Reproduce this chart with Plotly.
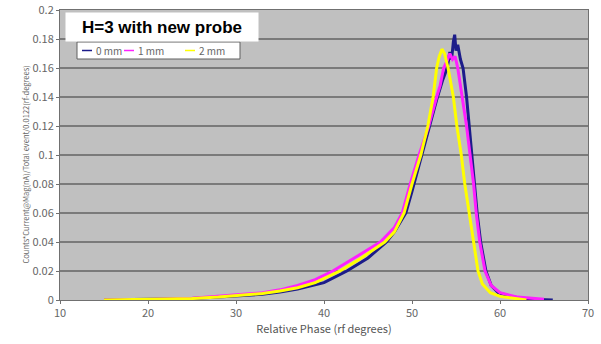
import plotly.graph_objects as go

# 0 mm (navy)
x0 = [15, 20, 25, 28, 30, 33, 35, 37, 40, 42.6, 45, 47.1, 48, 49.3, 50, 51, 52, 52.8,
      53.5, 54, 54.3, 54.5, 54.7, 54.85, 55.0, 55.2, 55.5, 55.8, 56.2, 56.5, 56.8,
      57.0, 57.4, 57.8, 58.4, 59.0, 59.8, 61.5, 63.5, 66]
y0 = [0, 0.0003, 0.001, 0.002, 0.0028, 0.004, 0.0055, 0.0075, 0.012, 0.02, 0.029, 0.04,
      0.047, 0.06, 0.075, 0.098, 0.12, 0.138, 0.152, 0.16, 0.171, 0.166, 0.178, 0.183,
      0.172, 0.176, 0.166, 0.16, 0.14, 0.12, 0.1, 0.085, 0.06, 0.04, 0.02, 0.01,
      0.005, 0.002, 0.0005, 0]

# 1 mm (magenta)
x1 = [15, 20, 25, 28, 30, 33, 35, 37, 39, 41.0, 44, 46.4, 48, 48.9, 49.8, 50.8, 51.9,
      52.4, 52.8, 53.2, 53.6, 54.0, 54.3, 54.6, 54.9, 55.2, 55.7, 56.2, 56.6, 57.0,
      57.3, 57.7, 58.3, 59.0, 60, 62, 65]
y1 = [0, 0.0003, 0.0012, 0.0025, 0.0035, 0.005, 0.007, 0.01, 0.014, 0.02, 0.031, 0.04,
      0.05, 0.06, 0.08, 0.1, 0.12, 0.132, 0.14, 0.148, 0.16, 0.165, 0.17, 0.166,
      0.168, 0.16, 0.14, 0.12, 0.1, 0.08, 0.06, 0.04, 0.02, 0.01, 0.005, 0.002, 0.0005]

# 2 mm (yellow)
x2 = [15, 20, 25, 28, 30, 33, 35, 37, 39, 41.8, 44, 46.9, 48, 49.1, 50, 51, 51.8, 52.4,
      52.8, 53.1, 53.4, 53.7, 54.1, 54.7, 55.1, 55.6, 56.0, 56.5, 57.0, 57.5, 58.0,
      58.9, 60, 61.5, 63]
y2 = [0, 0.0003, 0.001, 0.002, 0.003, 0.0045, 0.0062, 0.0085, 0.012, 0.02, 0.028, 0.04,
      0.047, 0.06, 0.08, 0.1, 0.12, 0.14, 0.16, 0.168, 0.173, 0.17, 0.16, 0.14,
      0.12, 0.1, 0.08, 0.06, 0.04, 0.02, 0.011, 0.005, 0.0025, 0.001, 0]

names = ["0 mm", "1 mm", "2 mm"]
colors = ["#1c1c8a", "#ff20ff", "#ffff00"]

xticks = [10, 20, 30, 40, 50, 60, 70]
yticks = [0, 0.02, 0.04, 0.06, 0.08, 0.1, 0.12, 0.14, 0.16, 0.18, 0.2]
ytick_text = ["0", "0.02", "0.04", "0.06", "0.08", "0.1", "0.12", "0.14", "0.16", "0.18", "0.2"]

W, H = 601, 344
ML, MR, MT, MB = 60, 13, 10, 44
PW, PH = W - ML - MR, H - MT - MB


def px(xp):
    return (xp - ML) / PW


def py(yp):
    return (H - MB - yp) / PH


fig = go.Figure()
for xs, ys, nm, c in zip([x0, x1, x2], [y0, y1, y2], names, colors):
    fig.add_trace(go.Scatter(x=xs, y=ys, mode="lines", name=nm,
                             line=dict(color=c, width=3)))

font = "Noto Sans CJK JP"
fig.update_layout(
    width=W, height=H,
    margin=dict(l=ML, r=MR, t=MT, b=MB, autoexpand=False),
    paper_bgcolor="white",
    plot_bgcolor="#c0c0c0",
    showlegend=False,
    xaxis=dict(range=[10, 70], tickvals=xticks, showgrid=False, zeroline=False,
               showline=True, linecolor="#707070", linewidth=1, mirror=True,
               ticks="outside", ticklen=3, tickcolor="#707070", automargin=False,
               tickfont=dict(family=font, size=11, color="#666666"),
               title=dict(text="Relative Phase (rf degrees)", standoff=6,
                          font=dict(family=font, size=11, color="#555555"))),
    yaxis=dict(range=[0, 0.2], tickvals=yticks, ticktext=ytick_text, automargin=False,
               showgrid=True, gridcolor="#7a7a7a", gridwidth=2, zeroline=False,
               showline=True, linecolor="#707070", linewidth=1, mirror=True,
               ticks="outside", ticklen=3, tickcolor="#707070",
               tickfont=dict(family=font, size=11, color="#666666")),
)

fig.add_annotation(text="Counts*Current@Mag(nA)/Total event/0.0122(rf-degrees)",
                   xref="paper", yref="paper", x=px(17), y=py(165), textangle=-90,
                   showarrow=False, font=dict(family=font, size=7.5, color="#666666"))

fig.add_annotation(text="<b>H=3 with new probe</b>", xref="paper", yref="paper",
                   x=px(65), y=py(12), xanchor="left", yanchor="top",
                   width=190, height=26, align="center", bgcolor="white",
                   showarrow=False, font=dict(family="Liberation Sans", size=17, color="black"))

# manual legend
fig.add_shape(type="rect", xref="paper", yref="paper", x0=px(77), x1=px(240),
              y0=py(59), y1=py(42), fillcolor="white", line=dict(color="#606060", width=1))
leg_line_x = [82, 124, 185]
for lx, nm, c in zip(leg_line_x, names, colors):
    fig.add_shape(type="line", xref="paper", yref="paper", x0=px(lx), x1=px(lx + 10),
                  y0=py(50.5), y1=py(50.5), line=dict(color=c, width=1.5))
    fig.add_annotation(text=nm, xref="paper", yref="paper", x=px(lx + 12), y=py(50.5),
                       xanchor="left", yanchor="middle", showarrow=False,
                       font=dict(family=font, size=10, color="#666666"))

fig.write_html("out.html", config={"displayModeBar": False},
               post_script="document.body.style.margin='0';")
